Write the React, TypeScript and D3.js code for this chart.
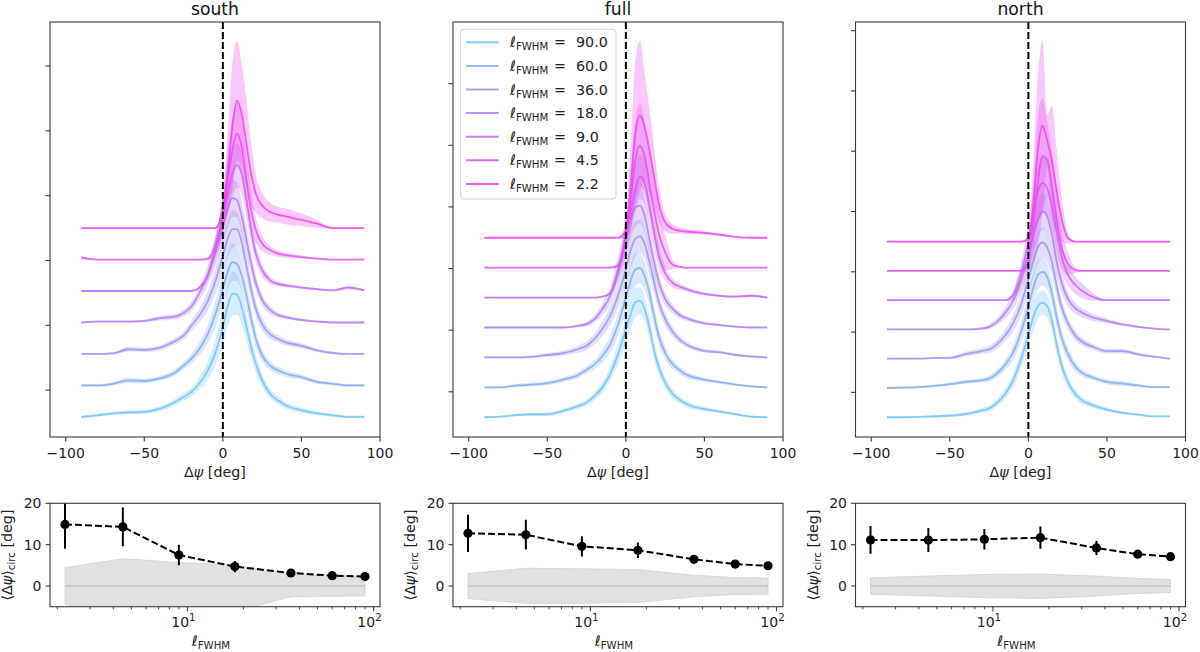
import React from "react";
import * as d3 from "d3";

const FONT = "'DejaVu Sans', sans-serif";

// Δψ (deg) grid on which every ridge profile is tabulated
const psiGrid = [-90, -80, -70, -60, -50, -40, -30, -25, -20, -15, -10, -5, 0, 3, 6, 9, 12, 15, 18, 21, 25, 30, 35, 40, 50, 60, 70, 80, 90];
const psiTicks = [-100, -50, 0, 50, 100];

// smoothing scales, bottom ridge first
const scaleLabels = ["90.0", "60.0", "36.0", "18.0", "9.0", "4.5", "2.2"];
const scaleColors = ["#72c3f7", "#82abf5", "#9995f3", "#b07ff1", "#c768ef", "#dc55ee", "#ee44ee"];
const ridgeStep = 10;
const ridgeTicks = [8.5, 29.1, 49.7, 70.3, 90.9, 111.5, 132.1];

const southProfiles = [
  [0, 0.5, 1.1, 1.4, 1.6, 2.6, 4.8, 6.3, 7.9, 10.6, 14.3, 20.1, 28.6, 34.9, 39.2, 38.9, 34.9, 28.6, 22.2, 16.9, 11.6, 7.4, 5.3, 3.7, 2.1, 1.1, 0.5, 0, 0],
  [0, 0, 0.5, 1.6, 1.4, 2.2, 4.2, 6.3, 8.5, 11.6, 15.9, 22.2, 30.7, 36.0, 39.2, 38.6, 34.9, 28.6, 21.2, 14.8, 9.5, 6.3, 4.8, 3.7, 2.6, 1.1, 0.5, 0, 0],
  [0, 0, 0.2, 1.5, 1.3, 2.0, 4.2, 5.8, 9.0, 12.2, 16.4, 22.8, 31.2, 36.5, 39.7, 39.7, 35.4, 28.0, 20.6, 14.3, 9.5, 6.3, 4.8, 3.7, 2.6, 1.1, 0.3, 0, 0],
  [0, 0.3, 0.3, 0.3, 0.5, 1.4, 1.9, 3.0, 5.1, 9.3, 14.6, 22.0, 30.5, 35.8, 39.5, 38.9, 33.7, 26.2, 18.8, 12.5, 7.2, 4.0, 2.4, 1.7, 0.8, 0.3, 0, 0, 0],
  [0, 0, 0, 0, 0, 0, 0, 0, 0, 1.1, 4.4, 12.9, 23.5, 30.9, 37.2, 39.9, 37.2, 28.8, 19.3, 11.9, 6.6, 3.4, 2.3, 1.8, 1.1, 0.6, 0.2, 1.1, 0.2],
  [0.6, 0, 0, 0, 0, 0, 0, 0, 0, 0, 0.2, 4.0, 14.6, 25.2, 34.7, 40.0, 35.8, 25.2, 15.7, 9.3, 5.1, 3.0, 1.9, 1.4, 0.8, 0.3, 0, 0, 0],
  [0, 0, 0, 0, 0, 0, 0, 0, 0, 0, 0, 0, 5.6, 17.2, 32.1, 40.5, 36.3, 26.8, 17.2, 10.9, 7.2, 5.1, 4.3, 3.7, 2.6, 1.4, 0, 0, 0],
];
const southSpread = [
  [0.4, 0.4, 0.5, 0.6, 0.6, 0.8, 1.0, 1.2, 1.5, 2.0, 2.8, 4.0, 5.5, 6.5, 7.0, 6.5, 5.5, 4.5, 3.5, 2.8, 2.0, 1.5, 1.2, 1.0, 0.8, 0.6, 0.5, 0.4, 0.4],
  [0.4, 0.4, 0.5, 0.8, 0.7, 0.8, 1.0, 1.2, 1.5, 2.0, 2.8, 4.0, 5.0, 6.0, 6.0, 5.5, 5.0, 4.0, 3.2, 2.5, 2.0, 1.5, 1.2, 1.0, 0.8, 0.6, 0.5, 0.4, 0.4],
  [0.3, 0.3, 0.4, 0.7, 0.7, 0.8, 1.0, 1.2, 1.6, 2.2, 3.0, 4.0, 5.0, 6.0, 6.0, 5.5, 5.0, 4.0, 3.2, 2.5, 2.0, 1.5, 1.2, 1.0, 0.8, 0.5, 0.4, 0.3, 0.3],
  [0.3, 0.3, 0.3, 0.3, 0.4, 0.8, 0.9, 1.0, 1.5, 2.2, 3.0, 4.5, 5.5, 6.0, 6.0, 5.5, 5.0, 4.5, 3.5, 2.5, 1.8, 1.2, 0.8, 0.6, 0.4, 0.3, 0.3, 0.3, 0.3],
  [0.2, 0.2, 0.2, 0.2, 0.2, 0.2, 0.2, 0.2, 0.2, 0.5, 1.5, 3.5, 5.5, 7.0, 7.5, 7.0, 6.5, 5.5, 4.0, 3.0, 2.0, 1.2, 0.8, 0.6, 0.4, 0.3, 0.3, 0.6, 0.3],
  [0.6, 0.2, 0.2, 0.2, 0.2, 0.2, 0.2, 0.2, 0.2, 0.2, 0.5, 3.0, 6.0, 9.0, 10.0, 10.0, 9.0, 8.0, 6.0, 4.0, 2.5, 1.5, 1.0, 0.8, 0.5, 0.3, 0.2, 0.2, 0.2],
  [0.2, 0.2, 0.2, 0.2, 0.2, 0.2, 0.2, 0.2, 0.2, 0.2, 0.2, 0.2, 4.0, 12.0, 20.0, 19.0, 16.0, 14.0, 10.0, 6.0, 4.0, 3.0, 2.5, 2.5, 2.0, 1.2, 0.2, 0.2, 0.2],
];

const fullProfiles = [
  [0, 0.2, 0.7, 1.0, 1.0, 2.1, 3.8, 4.9, 7.1, 9.9, 14.4, 21.1, 29.4, 34.4, 38.4, 38.9, 36.1, 30.0, 22.2, 16.6, 11.6, 7.7, 5.5, 4.1, 2.7, 1.9, 1.0, 0.2, 0],
  [0, 0, 0.6, 0.9, 1.4, 2.6, 4.2, 5.9, 7.6, 10.4, 14.3, 21.0, 29.9, 35.5, 39.4, 39.9, 37.1, 31.6, 23.7, 17.1, 11.5, 7.6, 5.4, 3.9, 2.6, 1.7, 0.9, 0.3, 0],
  [0, 0, 0, 0.2, 0.8, 1.4, 2.8, 3.9, 6.1, 9.5, 13.9, 20.6, 29.5, 35.7, 39.6, 40.5, 37.9, 31.8, 25.1, 18.4, 12.8, 8.4, 5.6, 3.9, 2.2, 1.7, 0.8, 0.3, 0],
  [0, 0, 0, 0, 0, 0, 0.6, 1.1, 2.8, 6.1, 10.6, 19.5, 29.5, 36.2, 40.1, 40.7, 37.3, 29.5, 21.7, 15.1, 9.5, 6.1, 3.9, 2.8, 1.4, 0.8, 0.3, 0, 0],
  [0, 0, 0, 0, 0, 0, 0, 0, 0, 0.3, 1.4, 8.1, 19.3, 28.2, 36.0, 40.5, 38.2, 30.4, 21.5, 13.7, 8.1, 4.8, 3.5, 2.6, 1.2, 0.6, 0.3, 0.6, 0],
  [0, 0, 0, 0, 0, 0, 0, 0, 0, 0, 0, 0.7, 11.3, 22.4, 35.8, 40.8, 36.9, 28.0, 19.1, 11.3, 5.1, 0.9, 0.2, 0, 0, 0, 0, 0, 0],
  [0, 0, 0, 0, 0, 0, 0, 0, 0, 0, 0, 0, 2.3, 16.8, 34.7, 40.8, 36.9, 29.1, 20.2, 11.3, 5.1, 2.9, 2.3, 2.0, 1.6, 1.0, 0.3, 0, 0],
];
const fullSpread = [
  [0.3, 0.3, 0.4, 0.5, 0.6, 0.7, 0.9, 1.0, 1.3, 1.8, 2.5, 3.5, 4.5, 5.0, 5.0, 4.5, 4.0, 3.5, 3.0, 2.5, 2.0, 1.5, 1.2, 1.0, 0.7, 0.5, 0.4, 0.3, 0.3],
  [0.3, 0.3, 0.5, 0.6, 0.7, 0.8, 1.0, 1.2, 1.5, 2.0, 2.8, 3.8, 4.8, 5.5, 5.5, 5.0, 4.5, 4.0, 3.5, 2.8, 2.2, 1.6, 1.2, 1.0, 0.7, 0.5, 0.4, 0.3, 0.3],
  [0.3, 0.3, 0.3, 0.4, 0.6, 0.8, 1.2, 1.5, 1.8, 2.4, 3.2, 4.2, 5.5, 6.0, 6.0, 5.5, 5.0, 4.5, 4.0, 3.0, 2.2, 1.6, 1.2, 0.9, 0.6, 0.5, 0.4, 0.3, 0.3],
  [0.2, 0.2, 0.2, 0.2, 0.2, 0.3, 0.5, 0.8, 1.2, 2.0, 3.0, 4.5, 5.5, 6.5, 6.5, 6.0, 5.5, 5.0, 4.0, 3.0, 2.2, 1.5, 1.0, 0.8, 0.5, 0.4, 0.3, 0.2, 0.2],
  [0.2, 0.2, 0.2, 0.2, 0.2, 0.2, 0.2, 0.2, 0.2, 0.3, 0.8, 2.5, 5.0, 7.0, 8.0, 7.5, 7.0, 6.0, 5.0, 4.0, 2.5, 1.5, 1.0, 0.8, 0.5, 0.4, 0.3, 0.5, 0.2],
  [0.2, 0.2, 0.2, 0.2, 0.2, 0.2, 0.2, 0.2, 0.2, 0.2, 0.2, 1.0, 6.0, 10.0, 14.0, 14.0, 12.0, 10.0, 9.0, 8.0, 6.0, 1.5, 0.3, 0.2, 0.2, 0.2, 0.2, 0.2, 0.2],
  [0.2, 0.2, 0.2, 0.2, 0.2, 0.2, 0.2, 0.2, 0.2, 0.2, 0.2, 0.2, 3.0, 14.0, 24.0, 25.0, 18.0, 14.0, 10.0, 6.0, 3.0, 1.5, 1.0, 0.8, 0.6, 0.4, 0.2, 0.2, 0.2],
];

const northProfiles = [
  [0, 0, 0.1, 0.3, 0.6, 1.1, 2.3, 3.0, 4.9, 7.8, 12.3, 19.2, 28.3, 34.0, 38.0, 39.2, 38.0, 32.9, 24.9, 18.0, 12.3, 7.8, 5.5, 4.3, 2.6, 1.5, 0.9, 0.3, 0.3],
  [0, 0.1, 0.3, 0.7, 1.3, 2.1, 2.6, 3.2, 4.9, 7.8, 11.8, 18.6, 27.7, 34.0, 38.6, 39.7, 38.0, 32.3, 24.3, 17.5, 11.8, 7.2, 4.9, 3.8, 2.1, 1.5, 0.9, 0.3, 0.3],
  [0, 0, 0, 0.3, 0.3, 1.6, 2.6, 3.2, 4.9, 7.8, 11.8, 18.0, 27.2, 32.9, 38.0, 39.7, 38.0, 32.9, 24.9, 18.0, 12.3, 7.8, 5.5, 4.3, 2.6, 2.6, 1.5, 0.7, 0],
  [0, 0, 0, 0, 0, 0, 0.3, 0.9, 2.6, 5.5, 9.5, 16.3, 25.5, 31.7, 37.4, 40.3, 38.6, 32.3, 23.2, 16.3, 10.6, 7.2, 5.5, 4.3, 2.9, 1.7, 0.9, 0.3, 0],
  [0, 0, 0, 0, 0, 0, 0, 0, 0, 0, 1.5, 8.3, 19.7, 28.9, 36.9, 40.0, 38.2, 32.3, 23.2, 15.2, 8.9, 5.1, 2.9, 1.4, 0, 0, 0, 0, 0],
  [0, 0, 0, 0, 0, 0, 0, 0, 0, 0, 0, 0, 2.6, 15.2, 30.0, 39.2, 38.0, 28.9, 17.5, 8.3, 2.6, 0.3, 0, 0, 0, 0, 0, 0, 0],
  [0, 0, 0, 0, 0, 0, 0, 0, 0, 0, 0, 0, 0.8, 11.6, 31.1, 39.6, 34.5, 27.6, 17.4, 8.2, 1.4, 0, 0, 0, 0, 0, 0, 0, 0],
];
const northSpread = [
  [0.3, 0.3, 0.3, 0.4, 0.5, 0.6, 0.8, 1.0, 1.2, 1.6, 2.2, 3.0, 4.0, 4.5, 4.5, 4.2, 4.0, 3.5, 3.0, 2.5, 2.0, 1.5, 1.2, 1.0, 0.7, 0.5, 0.4, 0.3, 0.3],
  [0.3, 0.3, 0.3, 0.4, 0.5, 0.6, 0.8, 1.0, 1.3, 1.8, 2.5, 3.5, 4.5, 5.0, 5.0, 4.8, 4.5, 4.0, 3.5, 2.8, 2.2, 1.6, 1.2, 1.0, 0.8, 0.8, 0.5, 0.3, 0.3],
  [0.2, 0.2, 0.2, 0.3, 0.4, 0.8, 1.0, 1.2, 1.5, 2.0, 2.8, 3.8, 5.0, 5.5, 5.5, 5.2, 5.0, 4.5, 4.0, 3.0, 2.2, 1.6, 1.3, 1.0, 0.8, 0.8, 0.5, 0.3, 0.2],
  [0.2, 0.2, 0.2, 0.2, 0.2, 0.2, 0.5, 0.8, 1.2, 1.8, 2.8, 4.0, 5.5, 6.0, 6.5, 6.0, 6.0, 5.5, 4.5, 3.5, 2.5, 1.8, 1.5, 1.2, 0.8, 0.5, 0.4, 0.3, 0.2],
  [0.2, 0.2, 0.2, 0.2, 0.2, 0.2, 0.2, 0.2, 0.2, 0.2, 1.5, 4.0, 6.5, 8.0, 9.0, 9.0, 9.0, 8.0, 7.0, 5.5, 4.0, 3.0, 2.5, 1.5, 0.2, 0.2, 0.2, 0.2, 0.2],
  [0.2, 0.2, 0.2, 0.2, 0.2, 0.2, 0.2, 0.2, 0.2, 0.2, 0.2, 0.2, 3.0, 12.0, 22.0, 20.0, 13.0, 12.0, 10.0, 7.0, 4.0, 1.0, 0.2, 0.2, 0.2, 0.2, 0.2, 0.2, 0.2],
  [0.2, 0.2, 0.2, 0.2, 0.2, 0.2, 0.2, 0.2, 0.2, 0.2, 0.2, 0.2, 1.0, 14.0, 25.0, 29.0, 9.0, 19.0, 14.0, 8.0, 2.0, 0.2, 0.2, 0.2, 0.2, 0.2, 0.2, 0.2, 0.2],
];

// circular mean offset against smoothing scale
const fwhm = [2.2, 4.5, 9.0, 18.0, 36.0, 60.0, 90.0];
const circTicks = [0, 10, 20];
const southCirc = [14.9, 14.3, 7.5, 4.7, 3.15, 2.5, 2.3];
const southCircErr = [5.9, 4.7, 2.5, 1.35, 0.8, 0.6, 0.5];
const southNullHi = [4.45, 6.6, 5.7, 5.0, 2.9, 2.5, 2.35];
const southNullLo = [-4.45, -7.5, -7.0, -6.2, -2.6, -2.45, -2.4];
const fullCirc = [12.75, 12.4, 9.6, 8.65, 6.45, 5.3, 4.9];
const fullCircErr = [4.5, 3.6, 2.45, 1.9, 0.9, 0.5, 0.4];
const fullNullHi = [3.0, 4.3, 4.15, 4.0, 2.6, 2.05, 1.95];
const fullNullLo = [-3.05, -4.2, -4.15, -4.0, -2.6, -2.05, -2.0];
const northCirc = [11.15, 11.1, 11.3, 11.7, 9.2, 7.7, 7.1];
const northCircErr = [3.35, 2.9, 2.5, 2.7, 1.7, 0.6, 0.5];
const northNullHi = [2.0, 2.4, 2.8, 2.9, 2.4, 1.8, 1.6];
const northNullLo = [-2.0, -2.4, -2.8, -3.0, -2.4, -1.8, -1.6];

const PANEL_W = 330;
const panelLefts = [50, 453, 855.5];
const TOP_Y0 = 22;
const TOP_Y1 = 437;
const BOT_Y0 = 503.3;
const BOT_Y1 = 606.7;
const SPINE = "#3a3a3a";
const TICK_FS = 14;
const LABEL_FS = 14.3;
const SUB_FS = 10.2;

type Pt = { p: number; v: number; s: number };

function fmtTick(v: number) {
  return v < 0 ? `\u2212${Math.abs(v)}` : `${v}`;
}

function RidgePanel({ left, title, profiles, spread, id, legend }: {
  left: number; title: string; profiles: number[][]; spread: number[][]; id: string; legend?: boolean;
}) {
  const x = d3.scaleLinear().domain([-110, 100]).range([left, left + PANEL_W]);
  const series: Pt[][] = profiles.map((row, i) =>
    psiGrid.map((p, j) => ({ p, v: i * ridgeStep + row[j], s: spread[i][j] }))
  );
  const vals = series.flatMap(r => r.flatMap(d => [d.v - d.s, d.v + d.s]));
  const [lo, hi] = d3.extent(vals) as [number, number];
  const pad = 0.05 * (hi - lo);
  const y = d3.scaleLinear().domain([lo - pad, hi + pad]).range([TOP_Y1, TOP_Y0]);

  const band = d3.area<Pt>().x(d => x(d.p)).y0(d => y(d.v - d.s)).y1(d => y(d.v + d.s)).curve(d3.curveMonotoneX);
  const line = d3.line<Pt>().x(d => x(d.p)).y(d => y(d.v)).curve(d3.curveMonotoneX);
  const ticks = ridgeTicks.filter(t => t < y.domain()[1] - 1 && t > y.domain()[0]);
  const cx = left + PANEL_W / 2;

  return (
    <g>
      <defs>
        <clipPath id={id}>
          <rect x={left} y={TOP_Y0} width={PANEL_W} height={TOP_Y1 - TOP_Y0} />
        </clipPath>
      </defs>
      <g clipPath={`url(#${id})`}>
        {series.map((s, i) => (
          <g key={i}>
            <path d={band(s) ?? ""} fill={scaleColors[i]} fillOpacity={0.3} stroke="none" />
            <path d={line(s) ?? ""} fill="none" stroke={scaleColors[i]} strokeOpacity={0.85} strokeWidth={1.8} />
          </g>
        ))}
        <line x1={x(0)} x2={x(0)} y1={TOP_Y0} y2={TOP_Y1} stroke="#000" strokeWidth={2} strokeDasharray="7,3" />
      </g>
      <rect x={left} y={TOP_Y0} width={PANEL_W} height={TOP_Y1 - TOP_Y0} fill="none" stroke={SPINE} strokeWidth={1.1} />
      {ticks.map(t => (
        <line key={t} x1={left} x2={left - 4.5} y1={y(t)} y2={y(t)} stroke={SPINE} strokeWidth={1.1} />
      ))}
      {psiTicks.map(t => (
        <g key={t}>
          <line x1={x(t)} x2={x(t)} y1={TOP_Y1} y2={TOP_Y1 + 4.5} stroke={SPINE} strokeWidth={1.1} />
          <text x={x(t)} y={457.5} textAnchor="middle" fontSize={TICK_FS} fontFamily={FONT} fill="#222">{fmtTick(t)}</text>
        </g>
      ))}
      <text x={cx} y={15} textAnchor="middle" fontSize={17.2} fontFamily={FONT} fill="#111">{title}</text>
      <text x={cx} y={477} textAnchor="middle" fontSize={LABEL_FS} fontFamily={FONT} fill="#222">
        Δ<tspan fontStyle="italic">ψ</tspan> [deg]
      </text>
      {legend && (
        <g>
          <rect x={460.7} y={29.3} width={155.3} height={169.7} rx={3} fill="#fff" fillOpacity={0.85} stroke="#d4d4d4" strokeWidth={1} />
          {scaleLabels.map((lab, i) => {
            const ry = 42.3 + i * 23.6;
            return (
              <g key={lab}>
                <line x1={466} x2={498.7} y1={ry} y2={ry} stroke={scaleColors[i]} strokeOpacity={0.85} strokeWidth={2} />
                <text x={510} y={ry + 5} fontSize={LABEL_FS} fontFamily={FONT} fill="#222">
                  ℓ<tspan fontSize={SUB_FS} dy={3}>FWHM</tspan>
                </text>
                <text x={554} y={ry + 5} fontSize={LABEL_FS} fontFamily={FONT} fill="#222">=</text>
                <text x={576} y={ry + 5} fontSize={LABEL_FS} fontFamily={FONT} fill="#222">{lab}</text>
              </g>
            );
          })}
        </g>
      )}
    </g>
  );
}

function CircPanel({ left, id, mean, err, nullHi, nullLo }: {
  left: number; id: string; mean: number[]; err: number[]; nullHi: number[]; nullLo: number[];
}) {
  const lo = Math.log10(fwhm[0]);
  const hi = Math.log10(fwhm[fwhm.length - 1]);
  const m = 0.05 * (hi - lo);
  const x = d3.scaleLog().domain([10 ** (lo - m), 10 ** (hi + m)]).range([left, left + PANEL_W]);
  const y = d3.scaleLinear().domain([-5, 20]).range([BOT_Y1, BOT_Y0]);
  const idx = fwhm.map((_, i) => i);
  const nullBand = d3.area<number>().x(i => x(fwhm[i])).y0(i => y(nullLo[i])).y1(i => y(nullHi[i]));
  const trend = d3.line<number>().x(i => x(fwhm[i])).y(i => y(mean[i]));
  const [d0, d1] = x.domain();
  const minor = [2, 3, 4, 5, 6, 7, 8, 9, 20, 30, 40, 50, 60, 70, 80, 90].filter(v => v >= d0 && v <= d1);
  const major = [10, 100].filter(v => v >= d0 && v <= d1);
  const cx = left + PANEL_W / 2;
  const cy = (BOT_Y0 + BOT_Y1) / 2;

  return (
    <g>
      <defs>
        <clipPath id={id}>
          <rect x={left} y={BOT_Y0} width={PANEL_W} height={BOT_Y1 - BOT_Y0} />
        </clipPath>
      </defs>
      <g clipPath={`url(#${id})`}>
        <path d={nullBand(idx) ?? ""} fill="#dcdcdc" fillOpacity={0.85} stroke="#d0d0d0" strokeWidth={0.8} />
        <line x1={x(fwhm[0])} x2={x(fwhm[fwhm.length - 1])} y1={y(0)} y2={y(0)} stroke="#c2c2c2" strokeWidth={1.6} />
        <path d={trend(idx) ?? ""} fill="none" stroke="#000" strokeWidth={2} strokeDasharray="7,3" />
        {idx.map(i => (
          <g key={i}>
            <line x1={x(fwhm[i])} x2={x(fwhm[i])} y1={y(mean[i] - err[i])} y2={y(mean[i] + err[i])} stroke="#000" strokeWidth={2} />
            <circle cx={x(fwhm[i])} cy={y(mean[i])} r={4.6} fill="#000" />
          </g>
        ))}
      </g>
      <rect x={left} y={BOT_Y0} width={PANEL_W} height={BOT_Y1 - BOT_Y0} fill="none" stroke={SPINE} strokeWidth={1.1} />
      {circTicks.map(t => (
        <g key={t}>
          <line x1={left} x2={left - 4.5} y1={y(t)} y2={y(t)} stroke={SPINE} strokeWidth={1.1} />
          <text x={left - 8.5} y={y(t) + 5} textAnchor="end" fontSize={TICK_FS} fontFamily={FONT} fill="#222">{t}</text>
        </g>
      ))}
      {minor.map(v => (
        <line key={v} x1={x(v)} x2={x(v)} y1={BOT_Y1} y2={BOT_Y1 + 2.6} stroke={SPINE} strokeWidth={0.9} />
      ))}
      {major.map(v => (
        <g key={v}>
          <line x1={x(v)} x2={x(v)} y1={BOT_Y1} y2={BOT_Y1 + 4.5} stroke={SPINE} strokeWidth={1.1} />
          <text x={x(v) - 4} y={627} textAnchor="middle" fontSize={TICK_FS} fontFamily={FONT} fill="#222">
            10<tspan fontSize={SUB_FS} dy={-6}>{Math.round(Math.log10(v))}</tspan>
          </text>
        </g>
      ))}
      <text x={cx - 4} y={646} textAnchor="middle" fontSize={LABEL_FS} fontFamily={FONT} fill="#222">
        ℓ<tspan fontSize={SUB_FS} dy={3}>FWHM</tspan>
      </text>
      <text transform={`translate(${left - 38},${cy}) rotate(-90)`} textAnchor="middle" fontSize={LABEL_FS} fontFamily={FONT} fill="#222">
        ⟨Δ<tspan fontStyle="italic">ψ</tspan>⟩<tspan fontSize={SUB_FS} dy={3}>circ</tspan><tspan dy={-3}> [deg]</tspan>
      </text>
    </g>
  );
}

export default function App() {
  return (
    <svg width={1200} height={652} viewBox="0 0 1200 652" style={{ position: "absolute", left: 0, top: 0, background: "#fff" }}>
      <rect width={1200} height={652} fill="#fff" />
      <RidgePanel left={panelLefts[0]} title="south" profiles={southProfiles} spread={southSpread} id="clip-s" />
      <RidgePanel left={panelLefts[1]} title="full" profiles={fullProfiles} spread={fullSpread} id="clip-f" legend />
      <RidgePanel left={panelLefts[2]} title="north" profiles={northProfiles} spread={northSpread} id="clip-n" />
      <CircPanel left={panelLefts[0]} id="clip-sb" mean={southCirc} err={southCircErr} nullHi={southNullHi} nullLo={southNullLo} />
      <CircPanel left={panelLefts[1]} id="clip-fb" mean={fullCirc} err={fullCircErr} nullHi={fullNullHi} nullLo={fullNullLo} />
      <CircPanel left={panelLefts[2]} id="clip-nb" mean={northCirc} err={northCircErr} nullHi={northNullHi} nullLo={northNullLo} />
    </svg>
  );
}
